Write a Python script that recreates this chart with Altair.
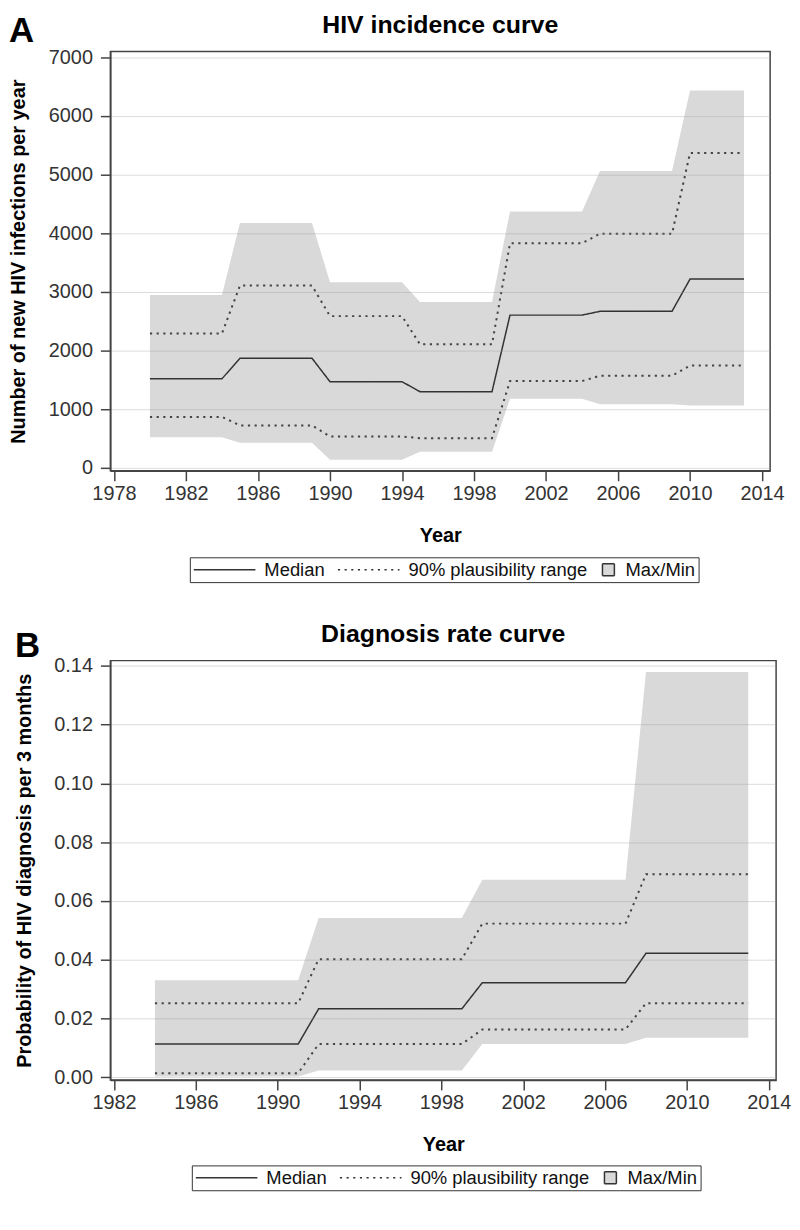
import altair as alt
import pandas as pd

FONT = "Liberation Sans"

# ---------------- Panel A: HIV incidence ----------------
A_YEARS = [1980, 1984, 1985, 1989, 1990, 1994, 1995, 1999, 2000, 2004, 2005, 2009, 2010, 2013]
A_MEDIAN = [1520, 1520, 1870, 1870, 1470, 1470, 1300, 1300, 2605, 2605, 2670, 2670, 3220, 3220]
A_P05 = [870, 870, 725, 725, 535, 535, 507, 507, 1480, 1480, 1572, 1572, 1745, 1745]
A_P95 = [2290, 2290, 3110, 3110, 2588, 2588, 2107, 2107, 3830, 3830, 3992, 3992, 5370, 5370]
A_MIN = [524, 524, 427, 427, 141, 141, 275, 275, 1178, 1178, 1086, 1086, 1065, 1065]
A_MAX = [2950, 2950, 4177, 4177, 3166, 3166, 2830, 2830, 4371, 4371, 5062, 5062, 6434, 6434]
A_XTICKS = [1978, 1982, 1986, 1990, 1994, 1998, 2002, 2006, 2010, 2014]
A_YTICKS = [0, 1000, 2000, 3000, 4000, 5000, 6000, 7000]

# ---------------- Panel B: diagnosis rate ----------------
B_YEARS = [1984, 1991, 1992, 1999, 2000, 2007, 2008, 2013]
B_MEDIAN = [0.0113, 0.0113, 0.0233, 0.0233, 0.0322, 0.0322, 0.0422, 0.0422]
B_P05 = [0.0014, 0.0014, 0.0113, 0.0113, 0.0163, 0.0163, 0.0252, 0.0252]
B_P95 = [0.0252, 0.0252, 0.0402, 0.0402, 0.0523, 0.0523, 0.0691, 0.0691]
B_MIN = [0.0003, 0.0003, 0.0023, 0.0023, 0.0113, 0.0113, 0.0135, 0.0135]
B_MAX = [0.0330, 0.0330, 0.0542, 0.0542, 0.0672, 0.0672, 0.1379, 0.1379]
B_XTICKS = [1982, 1986, 1990, 1994, 1998, 2002, 2006, 2010, 2014]
B_YTICKS = [0.00, 0.02, 0.04, 0.06, 0.08, 0.10, 0.12, 0.14]

LEGEND_ITEMS = ["Median", "90% plausibility range", "Max/Min"]
LEGEND_DASHES = [[1, 0], [2.2, 4.5], [1, 0]]
LEGEND_SHAPES = ["stroke", "stroke", "square"]
LEGEND_SIZES = [3844, 3844, 144]
LEGEND_FILLS = ["transparent", "transparent", "#d9d9d9"]

PANEL_LETTERS = ["A", "B"]
PANEL_TITLES = ["HIV incidence curve", "Diagnosis rate curve"]
Y_TITLES = ["Number of new HIV infections per year",
            "Probability of HIV diagnosis per 3 months"]
X_TITLE = "Year"


def lines_frame(years, med, p05, p95):
    rows = []
    for name, series, vals in (("median", "Median", med),
                               ("p05", "90% plausibility range", p05),
                               ("p95", "90% plausibility range", p95)):
        for y, v in zip(years, vals):
            rows.append({"year": y, "value": v, "series": series, "line": name})
    return pd.DataFrame(rows)


def make_legend(lx, ly):
    return alt.Legend(
        orient="none", legendX=lx, legendY=ly, direction="horizontal",
        title=None, padding=3, strokeColor="#333", clipHeight=19,
        columnPadding=12, labelOffset=8, labelFont=FONT, labelFontSize=18.5,
        labelColor="#111", labelLimit=400,
        symbolStrokeWidth=1.5, symbolStrokeColor="#333",
        symbolFillColor="transparent", symbolOpacity=1,
    )


def panel(idx, years, med, p05, p95, mn, mx, xdomain, xticks, ydomain, yticks,
          yformat, width, height, lx, ly, letter_x, letter_y):
    band_df = pd.DataFrame({"year": years, "lo": mn, "hi": mx})
    line_df = lines_frame(years, med, p05, p95)
    key_df = pd.DataFrame({"series": LEGEND_ITEMS,
                           "year": [years[0]] * 3, "value": [mn[0]] * 3})

    xaxis = alt.Axis(values=xticks, format="d", title=X_TITLE, grid=False,
                     labelPadding=3, titlePadding=22, zindex=1)
    yaxis = alt.Axis(values=yticks, format=yformat, title=Y_TITLES[idx], grid=True,
                     labelPadding=8, titlePadding=19.5, zindex=1)
    xs = alt.Scale(domain=xdomain, nice=False, zero=False)
    ys = alt.Scale(domain=ydomain, nice=False, zero=False)

    def X():
        return alt.X("year:Q", scale=xs, axis=xaxis)

    def Y(field):
        return alt.Y(field, type="quantitative", scale=ys, axis=yaxis)

    legend = make_legend(lx, ly)
    dash = alt.StrokeDash("series:N",
                          scale=alt.Scale(domain=LEGEND_ITEMS, range=LEGEND_DASHES),
                          legend=legend)

    band = alt.Chart(band_df).mark_area(color="#d9d9d9", opacity=1).encode(
        x=X(), y=Y("lo"), y2="hi:Q")
    med_layer = alt.Chart(line_df[line_df["line"] == "median"]).mark_line(
        color="#333", strokeWidth=1.5).encode(
        x=X(), y=Y("value"), strokeDash=dash, detail="line:N")
    dot_layer = alt.Chart(line_df[line_df["line"] != "median"]).mark_line(
        color="#444", strokeWidth=2).encode(
        x=X(), y=Y("value"), strokeDash=dash, detail="line:N")
    # key-only layer: supplies the legend's per-entry symbol shape/size/fill
    key_layer = alt.Chart(key_df).transform_filter("false").mark_point(
        color="#333", filled=False).encode(
        x=X(), y=Y("value"),
        strokeDash=dash,
        shape=alt.Shape("series:N", scale=alt.Scale(domain=LEGEND_ITEMS, range=LEGEND_SHAPES), legend=legend),
        size=alt.Size("series:N", scale=alt.Scale(type="ordinal", domain=LEGEND_ITEMS, range=LEGEND_SIZES), legend=legend),
        fill=alt.Fill("series:N", scale=alt.Scale(domain=LEGEND_ITEMS, range=LEGEND_FILLS), legend=legend),
    )

    letter = alt.Chart(pd.DataFrame({"t": [PANEL_LETTERS[idx]]})).mark_text(
        font=FONT, fontSize=35, fontWeight="bold", align="left",
        baseline="alphabetic", color="black").encode(
        x=alt.value(letter_x), y=alt.value(letter_y), text="t:N")
    title = alt.Chart(pd.DataFrame({"t": [PANEL_TITLES[idx]]})).mark_text(
        font=FONT, fontSize=25, fontWeight="bold", align="center",
        baseline="alphabetic", color="black").encode(
        x=alt.value(width / 2), y=alt.value(-19), text="t:N")

    return alt.layer(band, med_layer, dot_layer, key_layer, letter, title).properties(
        width=width, height=height)


top = panel(0, A_YEARS, A_MEDIAN, A_P05, A_P95, A_MIN, A_MAX,
            [1977.8, 2014.45], A_XTICKS, [-50, 7100], A_YTICKS, "d",
            664, 422, 80, 509, -102, -10)
bottom = panel(1, B_YEARS, B_MEDIAN, B_P05, B_P95, B_MIN, B_MAX,
               [1981.82, 2014.36], B_XTICKS, [-0.0009, 0.1418], B_YTICKS, ".2f",
               670, 422, 82, 508, -96, -4)

chart = alt.vconcat(top, bottom, spacing=37).properties(padding=0).resolve_scale(
    strokeDash="independent", shape="independent", size="independent", fill="independent"
).resolve_legend(
    strokeDash="independent", shape="independent", size="independent", fill="independent"
).configure(
    font=FONT
).configure_view(
    stroke="#444", strokeWidth=1.5
).configure_axis(
    domainColor="#444", domainWidth=1.5, tickColor="#444", tickWidth=1.5,
    tickSize=10, labelFont=FONT, labelFontSize=20, labelColor="#333",
    titleFont=FONT, titleFontSize=20, titleFontWeight="bold", titleColor="black",
    gridColor="#999", gridOpacity=0.35, gridWidth=1
)

chart.save("out.html", embed_options={"renderer": "svg", "actions": False})
